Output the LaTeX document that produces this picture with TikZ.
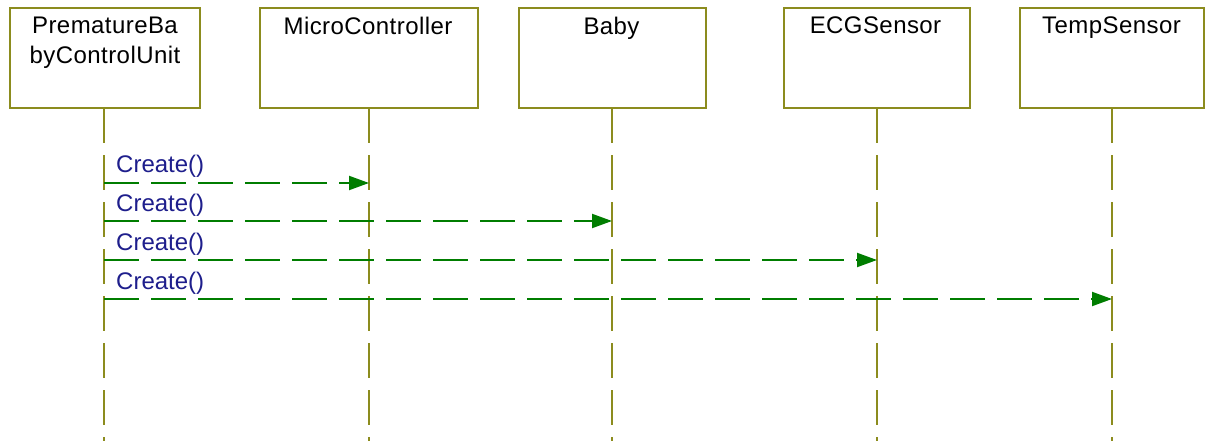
\documentclass[tikz,border=0pt]{standalone}
\usepackage{fontspec}
\setmainfont{Liberation Sans}
\newfontfamily\namefont[LetterSpace=1.8]{Liberation Sans}
\usetikzlibrary{arrows.meta}
\definecolor{boxline}{RGB}{140,140,30}
\definecolor{msggreen}{RGB}{0,125,0}
\definecolor{msgtext}{RGB}{30,30,140}
\begin{document}
\begin{tikzpicture}[x=1pt,y=-1pt,
  objbox/.style={draw=boxline,line width=2pt,minimum height=100pt,inner sep=0pt},
  objname/.style={anchor=north,inner sep=0pt,align=center,font=\namefont\fontsize{24}{30}\selectfont},
  life/.style={draw=boxline,line width=2pt,dash pattern=on 35pt off 12pt},
  msg/.style={draw=msggreen,line width=2pt,dash pattern=on 35pt off 12pt,
    -{Triangle[length=20pt,width=14pt]}},
  msglabel/.style={anchor=base west,inner sep=0pt,text=msgtext,font=\fontsize{24}{28}\selectfont}]
\useasboundingbox (0,0) rectangle (1207,441);
\fill[white] (0,0) rectangle (1207,441);

% object boxes
\node[objbox,minimum width=190pt] (pb) at (105,58) {};
\node[objbox,minimum width=218pt] (mc) at (369,58) {};
\node[objbox,minimum width=187pt] (bb) at (612.5,58) {};
\node[objbox,minimum width=186pt] (ecg) at (877,58) {};
\node[objbox,minimum width=184pt] (tmp) at (1112,58) {};

% object names
\node[objname] (pbt) at (105,17) {PrematureBa\\byControlUnit};
\node[objname] (mct) at (368,17) {MicroController};
\node[objname] (bbt) at (611.5,17) {Baby};
\node[objname] (ecgt) at (875.5,17) {ECGSensor};
\node[objname] (tmpt) at (1111.5,17) {TempSensor};

% lifelines
\coordinate (pbe) at (104,441);
\coordinate (mce) at (369,441);
\coordinate (bbe) at (612,441);
\coordinate (ecge) at (877,441);
\coordinate (tmpe) at (1112,441);
\draw[life] (104,108) -- (pbe);
\draw[life] (369,108) -- (mce);
\draw[life] (612,108) -- (bbe);
\draw[life] (877,108) -- (ecge);
\draw[life] (1112,108) -- (tmpe);

% message end points on the lifelines
\coordinate (s1) at (104,183);  \coordinate (t1) at (369,183);
\coordinate (s2) at (104,221);  \coordinate (t2) at (612,221);
\coordinate (s3) at (104,260);  \coordinate (t3) at (877,260);
\coordinate (s4) at (104,299);  \coordinate (t4) at (1112,299);

% create messages
\draw[msg] (s1) -- (t1);
\draw[msg] (s2) -- (t2);
\draw[msg] (s3) -- (t3);
\draw[msg] (s4) -- (t4);

\node[msglabel] (l1) at (116,172) {Create()};
\node[msglabel] (l2) at (116,211) {Create()};
\node[msglabel] (l3) at (116,250) {Create()};
\node[msglabel] (l4) at (116,289) {Create()};
\end{tikzpicture}
\end{document}
